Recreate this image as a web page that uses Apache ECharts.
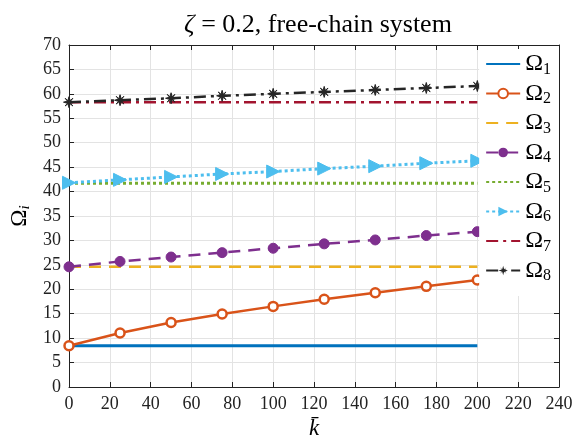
<!DOCTYPE html>
<html>
<head>
<meta charset="utf-8">
<script src="https://cdn.jsdelivr.net/npm/echarts@6/dist/echarts.min.js"></script>
<style>
  html, body { margin: 0; padding: 0; background: #fff; }
  #chart { width: 577px; height: 442px; }
</style>
</head>
<body>
<div id="chart"></div>
<script>
// k values where the curves were sampled
var kVals = [0, 25, 50, 75, 100, 125, 150, 175, 200];
var omega1 = [8.45, 8.45, 8.45, 8.45, 8.45, 8.45, 8.45, 8.45, 8.45];
var omega2 = [8.45, 11.05, 13.2, 14.95, 16.5, 17.95, 19.3, 20.6, 21.9];
var omega3 = [24.6, 24.6, 24.6, 24.6, 24.6, 24.6, 24.6, 24.6, 24.6];
var omega4 = [24.6, 25.7, 26.6, 27.5, 28.4, 29.3, 30.1, 31.0, 31.8];
var omega5 = [41.7, 41.7, 41.7, 41.7, 41.7, 41.7, 41.7, 41.7, 41.7];
var omega6 = [41.8, 42.4, 43.0, 43.6, 44.1, 44.7, 45.2, 45.8, 46.3];
var omega7 = [58.3, 58.3, 58.3, 58.3, 58.3, 58.3, 58.3, 58.3, 58.3];
var omega8 = [58.3, 58.7, 59.1, 59.6, 60.0, 60.4, 60.8, 61.2, 61.6];
var xTicks = [0, 20, 40, 60, 80, 100, 120, 140, 160, 180, 200, 220, 240];
var yTicks = [0, 5, 10, 15, 20, 25, 30, 35, 40, 45, 50, 55, 60, 65, 70];
var names = ['Ω1', 'Ω2', 'Ω3', 'Ω4', 'Ω5', 'Ω6', 'Ω7', 'Ω8'];
// series drawn as plain lines (no markers)
var plainLines = ['Ω1', 'Ω3', 'Ω5', 'Ω7'];

var serif = '"Liberation Serif", "DejaVu Serif", serif';
var starPath = 'path://M5,0 L6,3.6 L8.5,1.5 L6.4,4 L10,5 L6.4,6 L8.5,8.5 L6,6.4 L5,10 L4,6.4 L1.5,8.5 L3.6,6 L0,5 L3.6,4 L1.5,1.5 L4,3.6 Z';

function pairs(ys) {
    return kVals.map(function (k, i) { return [k, ys[i]]; });
}

function makeSeries(name, ys, color, opts) {
    var s = {
        name: name,
        type: 'line',
        data: pairs(ys),
        symbol: 'none',
        symbolSize: 9,
        color: color,
        lineStyle: { color: color, width: 2.5, type: 'solid' },
        itemStyle: { color: color, borderColor: color },
        animation: false,
        z: 3
    };
    for (var key in opts) s[key] = opts[key];
    return s;
}

var series = [
    makeSeries('Ω1', omega1, '#0072BD', { lineStyle: { color: '#0072BD', width: 3 } }),
    makeSeries('Ω2', omega2, '#D95319', {
        symbol: 'circle', symbolSize: 9,
        itemStyle: { color: '#ffffff', borderColor: '#D95319', borderWidth: 2.5 }
    }),
    makeSeries('Ω3', omega3, '#EDB120', { lineStyle: { color: '#EDB120', width: 2.5, type: [12, 8] } }),
    makeSeries('Ω4', omega4, '#7E2F8E', {
        symbol: 'circle', symbolSize: 10,
        lineStyle: { color: '#7E2F8E', width: 2.5, type: [12, 8] }
    }),
    makeSeries('Ω5', omega5, '#77AC30', { lineStyle: { color: '#77AC30', width: 3, type: [3, 3] } }),
    makeSeries('Ω6', omega6, '#4DBEEE', {
        symbol: 'triangle', symbolSize: 13, symbolRotate: -90,
        lineStyle: { color: '#4DBEEE', width: 3, type: [3, 3] }
    }),
    makeSeries('Ω7', omega7, '#A2142F', { lineStyle: { color: '#A2142F', width: 2.5, type: [12, 5, 3, 5] } }),
    makeSeries('Ω8', omega8, '#262626', {
        symbol: starPath, symbolSize: 11,
        lineStyle: { color: '#262626', width: 2.5, type: [12, 5, 3, 5] }
    })
];

var legendData = names.map(function (n) {
    var item = { name: n };
    if (plainLines.indexOf(n) >= 0) item.itemStyle = { opacity: 0 };
    return item;
});

var chart = echarts.init(document.getElementById('chart'));
chart.setOption({
    backgroundColor: '#ffffff',
    animation: false,
    title: {
        text: '{i|ζ} = 0.2, free-chain system',
        left: 313,
        textAlign: 'center',
        top: 7,
        textStyle: {
            fontFamily: serif, fontSize: 26, fontWeight: 'normal', color: '#000',
            rich: { i: { fontFamily: serif, fontSize: 26, fontStyle: 'italic', color: '#000' } }
        }
    },
    grid: { left: 69, right: 18, top: 45, bottom: 55, containLabel: false, outerBoundsMode: 'none' },
    legend: {
        orient: 'vertical',
        right: 18,
        top: 49,
        itemWidth: 34,
        itemHeight: 12,
        itemGap: 4,
        padding: [3, 8, 12, 6],
        backgroundColor: '#ffffff',
        data: legendData,
        formatter: function (name) {
            return '{a|Ω}{b|' + name.slice(1) + '}';
        },
        textStyle: {
            fontFamily: serif, color: '#000',
            rich: {
                a: { fontFamily: serif, fontSize: 24, color: '#000' },
                b: { fontFamily: serif, fontSize: 16, color: '#000', padding: [11, 0, 0, 0] }
            }
        }
    },
    xAxis: [{
        type: 'value', min: 0, max: 240, interval: 20,
        name: 'k\u0304', nameLocation: 'middle', nameGap: 30,
        nameTextStyle: { fontFamily: serif, fontSize: 23, fontStyle: 'italic', color: '#000' },
        axisLine: { show: true, onZero: false, lineStyle: { color: '#222', width: 1 } },
        axisTick: { show: true, inside: true, length: 5, lineStyle: { color: '#222' } },
        axisLabel: {
            fontFamily: serif, fontSize: 18, color: '#222', margin: 8,
            formatter: function (v) { return xTicks.indexOf(v) >= 0 ? String(v) : ''; }
        },
        splitLine: { show: true, lineStyle: { color: '#e3e3e3', width: 1 } }
    }, {
        type: 'value', min: 0, max: 240, interval: 20, position: 'top',
        axisLine: { show: true, onZero: false, lineStyle: { color: '#222', width: 1 } },
        axisTick: { show: true, inside: true, length: 5, lineStyle: { color: '#222' } },
        axisLabel: { show: false },
        splitLine: { show: false }
    }],
    yAxis: [{
        type: 'value', min: 0, max: 70, interval: 5,
        name: '{a|Ω}{b|i}', nameLocation: 'middle', nameGap: 34, nameRotate: 90,
        nameTextStyle: {
            fontFamily: serif, color: '#000',
            rich: {
                a: { fontFamily: serif, fontSize: 23, color: '#000' },
                b: { fontFamily: serif, fontSize: 15, fontStyle: 'italic', color: '#000', padding: [10, 0, 0, 0] }
            }
        },
        axisLine: { show: true, onZero: false, lineStyle: { color: '#222', width: 1 } },
        axisTick: { show: true, inside: true, length: 5, lineStyle: { color: '#222' } },
        axisLabel: {
            fontFamily: serif, fontSize: 18, color: '#222', margin: 8,
            formatter: function (v) { return yTicks.indexOf(v) >= 0 ? String(v) : ''; }
        },
        splitLine: { show: true, lineStyle: { color: '#e3e3e3', width: 1 } }
    }, {
        type: 'value', min: 0, max: 70, interval: 5, position: 'right',
        axisLine: { show: true, onZero: false, lineStyle: { color: '#222', width: 1 } },
        axisTick: { show: true, inside: true, length: 5, lineStyle: { color: '#222' } },
        axisLabel: { show: false },
        splitLine: { show: false }
    }],
    series: series
});
</script>
</body>
</html>
